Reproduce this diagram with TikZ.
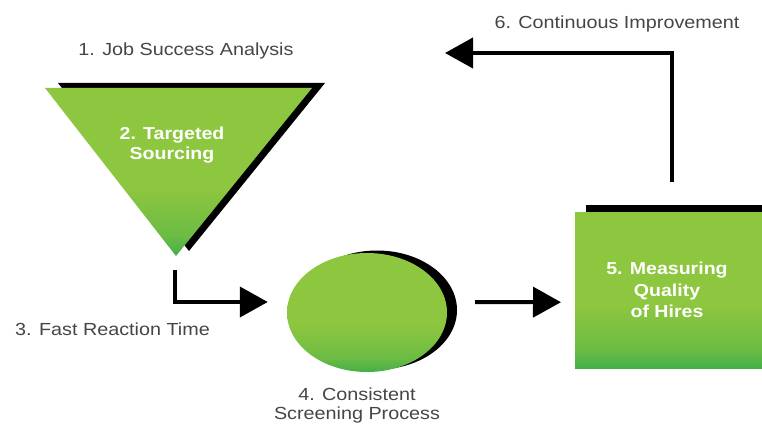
\documentclass[tikz,border=0pt]{standalone}
\usepackage{fontspec}
\setmainfont{Liberation Sans}[FakeStretch=1.13]
\usetikzlibrary{arrows.meta,shapes.geometric,calc}
\definecolor{leaf}{HTML}{8DC63F}
\definecolor{leafdark}{HTML}{44AF49}
\definecolor{labelgray}{HTML}{454545}
% green fill that darkens towards the bottom edge
\pgfdeclareverticalshading{leaffade}{100bp}{color(0bp)=(leafdark); color(25bp)=(leafdark); color(31bp)=(leaf!55!leafdark); color(45bp)=(leaf); color(100bp)=(leaf)}
\begin{document}
\begin{tikzpicture}[x=1pt,y=-1pt,
  caplabel/.style={text=labelgray,font=\fontsize{17.5}{21}\selectfont,anchor=base,inner sep=0pt},
  inlabel/.style={text=white,font=\bfseries\fontsize{17.3}{21}\selectfont,align=center,inner sep=0pt},
  flow/.style={line width=4pt,-{Triangle[length=28pt,width=30pt]}},
  greenfill/.style={shade,shading=leaffade}]
\useasboundingbox (0,0) rectangle (762,425);

% 2. funnel triangle with its offset shadow
\fill[black] (58,83) -- (325,83) -- (189,251) -- cycle;
\path[greenfill] (45,88) -- (312,88) -- (176,256) -- cycle;
\coordinate (tri) at (176,256);
\node[inlabel] (tritext) at (172,145) {2. Targeted\\[-1pt]Sourcing};

% 4. screening ellipse
\node[ellipse,fill=black,minimum width=160pt,minimum height=119pt,inner sep=0pt] (ellshadow) at (377,310) {};
\node[ellipse,greenfill,minimum width=160pt,minimum height=119pt,inner sep=0pt] (ell) at (367,312.5) {};

% 5. measuring box
\fill[black] (586,205) rectangle (762,361);
\node[greenfill,minimum width=187pt,minimum height=156pt,inner sep=0pt,anchor=north west] (rec) at (575,212) {};
\node[inlabel] (rectext) at (667,290) {5. Measuring\\[0.5pt]Quality\\[0.5pt]of Hires};

% connectors
\coordinate (a1s) at ($(tri)+(-1,14)$);
\coordinate (a1t) at ($(ell.west)+(-19,-10.5)$);
\draw[flow] (a1s) |- (a1t);
\coordinate (a2s) at ($(ell.east)+(28,-10.5)$);
\coordinate (a2t) at ($(rec.west)+(-14,12)$);
\draw[flow] (a2s) -- (a2t);
\coordinate (a3s) at ($(rec.north)+(3.5,-30)$);
\coordinate (a3t) at (445,53);
\draw[flow] (a3s) |- (a3t);

% step captions
\node[caplabel] (cap1) at (186,56) {1. Job Success Analysis};
\node[caplabel] (cap3) at (112.5,335) {3. Fast Reaction Time};
\node[caplabel] (cap6) at (617,29) {6. Continuous Improvement};
\node[caplabel] (cap4a) at (357,400) {4. Consistent};
\node[caplabel] (cap4b) at (357,419.5) {Screening Process};
\end{tikzpicture}
\end{document}
